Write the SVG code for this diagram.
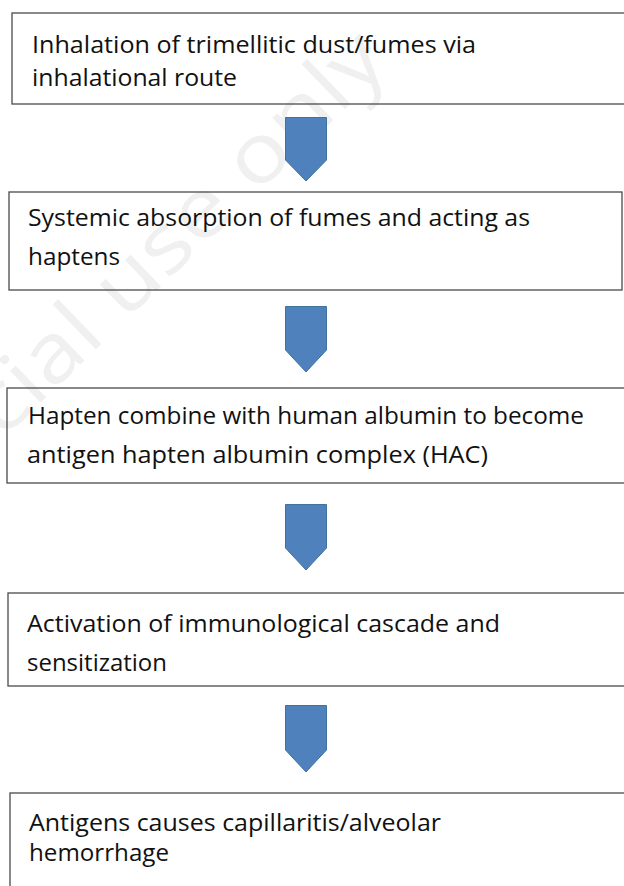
<svg xmlns="http://www.w3.org/2000/svg" width="624" height="886" viewBox="0 0 624 886">
<defs>
<style>
.box{fill:none;stroke:#4a4a4a;stroke-width:1.3}
.t{font-family:"Open Sans","Noto Sans","Liberation Sans",sans-serif;font-size:24px;fill:#111111}
.arr{fill:#4F81BD;stroke:#41719C;stroke-width:1}
.wm{font-family:"Open Sans","Liberation Sans",sans-serif;font-size:82px;fill:#f0f0f0}
</style>
</defs>
<rect x="0" y="0" width="624" height="886" fill="#ffffff"/>
<text class="wm" x="2" y="440" transform="rotate(-44 2 440)" textLength="540" lengthAdjust="spacingAndGlyphs">cial use only</text>
<g id="connectors">
<path class="arr" d="M285.5,117.5 H326.5 V160 L306,181 L285.5,160 Z"/>
<path class="arr" d="M285.5,306.5 H326.5 V350 L306,372 L285.5,350 Z"/>
<path class="arr" d="M285.5,504.5 H326.5 V548 L306,570 L285.5,548 Z"/>
<path class="arr" d="M285.5,705.5 H326.5 V750 L306,772 L285.5,750 Z"/>
</g>
<g id="node1">
<rect class="box" x="12" y="13" width="620" height="91"/>
<text class="t" x="32" y="53" textLength="444" lengthAdjust="spacingAndGlyphs">Inhalation of trimellitic dust/fumes via</text>
<text class="t" x="32" y="86" textLength="205" lengthAdjust="spacingAndGlyphs">inhalational route</text>
</g>
<g id="node2">
<rect class="box" x="9" y="192" width="613" height="98"/>
<text class="t" x="28" y="226" textLength="502" lengthAdjust="spacingAndGlyphs">Systemic absorption of fumes and acting as</text>
<text class="t" x="28" y="265" textLength="92" lengthAdjust="spacingAndGlyphs">haptens</text>
</g>
<g id="node3">
<rect class="box" x="7" y="388" width="625" height="95"/>
<text class="t" x="28" y="424" textLength="556" lengthAdjust="spacingAndGlyphs">Hapten combine with human albumin to become</text>
<text class="t" x="27" y="463" textLength="461" lengthAdjust="spacingAndGlyphs">antigen hapten albumin complex (HAC)</text>
</g>
<g id="node4">
<rect class="box" x="8" y="593" width="624" height="93"/>
<text class="t" x="27" y="632" textLength="473" lengthAdjust="spacingAndGlyphs">Activation of immunological cascade and</text>
<text class="t" x="27" y="671" textLength="140" lengthAdjust="spacingAndGlyphs">sensitization</text>
</g>
<g id="node5">
<rect class="box" x="10" y="793" width="622" height="110"/>
<text class="t" x="29" y="831" textLength="412" lengthAdjust="spacingAndGlyphs">Antigens causes capillaritis/alveolar</text>
<text class="t" x="29" y="861" textLength="140" lengthAdjust="spacingAndGlyphs">hemorrhage</text>
</g>
</svg>
